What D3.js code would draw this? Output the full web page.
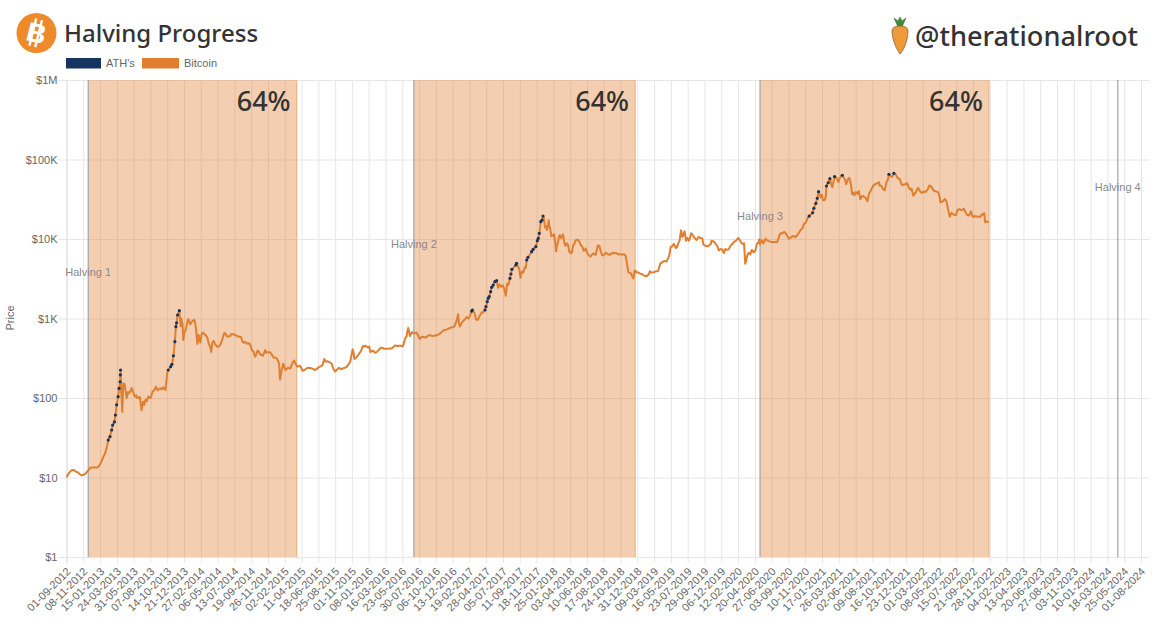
<!DOCTYPE html>
<html>
<head>
<meta charset="utf-8">
<script src="https://cdn.jsdelivr.net/npm/d3@7"></script>
<style>
  html, body { margin: 0; background: #fff; }
  svg { display: block; }
  text { font-family: "Liberation Sans", sans-serif; }
  .titulo { font-family: "Noto Sans", sans-serif; font-weight: 500; fill: #333; }
  .eje text { fill: #666; font-size: 11px; }
  .eje path { display: none; }
  .eje line { stroke: #e6e6e6; }
</style>
</head>
<body>
<svg width="1154" height="620"></svg>
<script>

/* Datos */

let etiquetas_x = [
  '01-09-2012','08-11-2012','15-01-2013','24-03-2013','31-05-2013','07-08-2013','14-10-2013','21-12-2013',
  '27-02-2014','06-05-2014','13-07-2014','19-09-2014','26-11-2014','02-02-2015','11-04-2015','18-06-2015',
  '25-08-2015','01-11-2015','08-01-2016','16-03-2016','23-05-2016','30-07-2016','06-10-2016','13-12-2016',
  '19-02-2017','28-04-2017','05-07-2017','11-09-2017','18-11-2017','25-01-2018','03-04-2018','10-06-2018',
  '17-08-2018','24-10-2018','31-12-2018','09-03-2019','16-05-2019','23-07-2019','29-09-2019','06-12-2019',
  '12-02-2020','20-04-2020','27-06-2020','03-09-2020','10-11-2020','17-01-2021','26-03-2021','02-06-2021',
  '09-08-2021','16-10-2021','23-12-2021','01-03-2022','08-05-2022','15-07-2022','21-09-2022','28-11-2022',
  '04-02-2023','13-04-2023','20-06-2023','27-08-2023','03-11-2023','10-01-2024','18-03-2024','25-05-2024',
  '01-08-2024'
]

let ticks_y = [1, 10, 100, 1000, 10000, 100000, 1000000]
let etiquetas_y = ['$1', '$10', '$100', '$1K', '$10K', '$100K', '$1M']

let halvings = ['Halving 1', 'Halving 2', 'Halving 3', 'Halving 4']
let halving_fechas = ['2012-11-28', '2016-07-09', '2020-05-11', '2024-04-29']
let progreso_fin = ['2015-03-22', '2018-12-22', '2022-11-24']
let progreso_texto = ['64%', '64%', '64%']

let bitcoin_fechas = [
  '2012-09-01','2012-09-08','2012-09-15','2012-09-22','2012-10-01','2012-10-08','2012-10-15','2012-10-25','2012-11-01','2012-11-08','2012-11-15','2012-11-22','2012-11-28','2012-12-08','2012-12-18','2012-12-28',
  '2013-01-05','2013-01-12','2013-01-20','2013-01-28','2013-02-05','2013-02-12',
  '2013-04-11','2013-04-15','2013-04-19','2013-04-24','2013-05-03','2013-05-12','2013-05-23','2013-06-05','2013-06-15','2013-06-25','2013-07-02','2013-07-08','2013-07-18','2013-07-29','2013-08-15','2013-08-29','2013-09-15','2013-09-28','2013-10-07','2013-10-14',
  '2013-12-07','2013-12-10','2013-12-15','2013-12-18','2013-12-22','2013-12-28',
  '2014-01-05','2014-01-15','2014-01-25','2014-02-03','2014-02-08','2014-02-13','2014-02-18','2014-02-25','2014-03-03','2014-03-15','2014-03-25','2014-04-01','2014-04-10','2014-04-15','2014-04-25','2014-05-05','2014-05-20','2014-05-28','2014-06-03','2014-06-15','2014-07-01','2014-07-15','2014-08-01','2014-08-15','2014-08-25','2014-09-05','2014-09-15','2014-09-22','2014-10-05','2014-10-15','2014-10-25','2014-11-05','2014-11-15','2014-11-25','2014-12-05','2014-12-20',
  '2015-01-01','2015-01-10','2015-01-14','2015-01-20','2015-01-27','2015-02-05','2015-02-15','2015-03-01','2015-03-12','2015-03-25','2015-04-05','2015-04-15','2015-05-01','2015-05-20','2015-06-05','2015-06-20','2015-07-05','2015-07-12','2015-07-25','2015-08-05','2015-08-18','2015-08-25','2015-09-10','2015-09-25','2015-10-10','2015-10-25','2015-11-04','2015-11-11','2015-11-20','2015-12-01','2015-12-15','2015-12-25',
  '2016-01-05','2016-01-15','2016-01-25','2016-02-10','2016-02-25','2016-03-10','2016-03-25','2016-04-10','2016-04-25','2016-05-10','2016-05-25','2016-06-05','2016-06-12','2016-06-16','2016-06-23','2016-07-01','2016-07-09','2016-07-20','2016-08-02','2016-08-10','2016-08-25','2016-09-10','2016-09-25','2016-10-10','2016-10-25','2016-11-05','2016-11-20','2016-12-05','2016-12-20','2016-12-30',
  '2017-01-04','2017-01-11','2017-01-20','2017-02-01','2017-02-15','2017-03-10','2017-03-18','2017-03-25','2017-04-05','2017-04-15',
  '2017-06-15','2017-06-25','2017-07-05','2017-07-16','2017-07-22',
  '2017-09-08','2017-09-14','2017-09-20','2017-10-01',
  '2017-12-22','2017-12-28',
  '2018-01-06','2018-01-12','2018-01-17','2018-01-28','2018-02-05','2018-02-12','2018-02-20','2018-03-05','2018-03-15','2018-03-25','2018-04-06','2018-04-15','2018-04-24','2018-05-05','2018-05-15','2018-05-28','2018-06-05','2018-06-15','2018-06-24','2018-07-05','2018-07-24','2018-08-05','2018-08-14','2018-08-25','2018-09-05','2018-09-15','2018-10-01','2018-10-15','2018-11-01','2018-11-13','2018-11-20','2018-11-25','2018-12-05','2018-12-15','2018-12-24',
  '2019-01-05','2019-01-20','2019-02-07','2019-02-20','2019-03-05','2019-03-25','2019-04-03','2019-04-20','2019-05-05','2019-05-15','2019-05-28','2019-06-05','2019-06-15','2019-06-26','2019-07-02','2019-07-10','2019-07-16','2019-07-28','2019-08-06','2019-08-20','2019-09-05','2019-09-20','2019-09-25','2019-10-05','2019-10-25','2019-10-27','2019-11-05','2019-11-20','2019-12-01','2019-12-17','2019-12-28',
  '2020-01-05','2020-01-20','2020-02-01','2020-02-14','2020-02-26','2020-03-07','2020-03-12','2020-03-20','2020-04-01','2020-04-15','2020-04-29','2020-05-08','2020-05-11','2020-05-25','2020-06-02','2020-06-15','2020-07-01','2020-07-20','2020-08-02','2020-08-17','2020-09-05','2020-09-20','2020-10-10','2020-10-21','2020-11-05','2020-11-20',
  '2021-01-12','2021-01-21','2021-02-01','2021-02-28','2021-03-25','2021-04-25','2021-05-08','2021-05-19','2021-05-28','2021-06-10','2021-06-21','2021-07-03','2021-07-20','2021-08-01','2021-08-14','2021-09-05','2021-09-07','2021-09-20','2021-10-05','2021-10-28','2021-11-20','2021-12-04','2021-12-15','2021-12-27',
  '2022-01-05','2022-01-22','2022-02-10','2022-02-24','2022-03-05','2022-03-28','2022-04-15','2022-05-03','2022-05-12','2022-05-30','2022-06-13','2022-06-18','2022-07-05','2022-07-20','2022-08-15','2022-08-28','2022-09-12','2022-09-20','2022-10-10','2022-10-28','2022-11-05','2022-11-09','2022-11-16','2022-11-24'
]

let bitcoin_precios = [
  10,11,11.8,12.3,12.4,11.9,11.7,11,10.6,10.9,11,11.7,12.3,13.4,13.4,13.4,
  13.4,14.2,15.7,18,20.4,24.5,
  117,67,153,150,100,115,133,104,100,103,70,90,95,104,120,139,133,136,126,205,
  800,1000,850,537,660,730,
  950,850,930,920,720,480,620,500,650,630,580,470,380,500,480,440,490,590,660,590,640,620,590,510,510,480,470,400,330,395,355,340,400,375,375,320,
  315,270,170,220,270,225,240,255,295,248,255,220,235,237,225,245,260,310,290,280,232,215,240,235,245,285,410,310,325,365,450,455,
  432,380,395,380,425,415,416,420,460,455,445,575,670,760,600,675,650,665,550,590,575,620,600,615,655,705,730,765,790,960,
  1130,790,900,980,1000,1190,970,960,1130,1180,
  2430,2580,2600,1930,2750,
  4300,3250,3900,4400,
  14000,14300,
  17200,13500,10800,11500,7000,8900,11200,11500,8200,8500,6600,8300,9600,9800,8500,7100,7600,6400,6000,6600,8300,7000,6200,6700,6400,6500,6600,6400,6350,6250,4700,3800,3700,3200,4000,
  3800,3600,3400,3950,3800,3950,4900,5300,5750,8000,8700,7700,8900,12900,10600,12500,9500,9500,11800,10300,10600,10200,8500,8100,8650,9500,9300,8100,7400,6650,7300,
  7400,8700,9350,10300,8800,8900,4900,6200,6400,6800,8800,9900,8600,8800,10100,9400,9200,9200,11800,12300,10100,10900,11300,12800,15500,18600,
  33500,30800,33500,45000,52000,49000,58500,36700,35500,37000,31600,34700,29800,40000,47500,51800,46900,43000,51500,60500,58000,49000,48800,50700,
  43500,35000,44000,38000,39500,47100,40500,38500,29000,31800,22500,19000,20200,23200,24000,20000,22300,18900,19100,20600,21200,16200,16600,16500
]

// lecturas intermedias, para el serrucho de la linea
let detalle_fechas = [
  '2013-05-08','2013-05-18','2013-06-10','2013-07-13','2013-07-24','2013-08-08','2013-08-22','2013-09-05','2013-09-22',
  '2014-01-08','2014-01-20','2014-01-30','2014-03-08','2014-03-20','2014-04-05','2014-04-20','2014-05-12','2014-06-08','2014-06-25','2014-07-08','2014-07-25','2014-08-08','2014-08-20','2014-09-10','2014-09-28','2014-10-10','2014-10-20','2014-11-10','2014-11-20','2014-12-12','2014-12-28',
  '2015-02-25','2015-03-05','2015-03-18','2015-04-25','2015-05-10','2015-06-12','2015-06-28','2015-07-18','2015-07-30','2015-08-12','2015-09-02','2015-09-18','2015-10-18','2015-11-08','2015-12-08','2015-12-20',
  '2016-01-10','2016-02-03','2016-03-03','2016-04-02','2016-05-03','2016-05-17','2016-06-09','2016-06-19','2016-08-18','2016-09-02','2016-10-02','2016-11-12','2016-12-12',
  '2017-01-07','2017-02-08','2017-02-20','2017-03-14','2017-03-30','2017-04-10','2017-06-20','2017-06-29','2017-07-10','2017-07-19','2017-07-27','2017-09-05','2017-09-17','2017-09-25','2017-10-05','2017-12-18','2017-12-25','2017-12-30',
  '2018-01-03','2018-01-09','2018-01-22','2018-02-02','2018-02-08','2018-02-16','2018-02-26','2018-03-10','2018-03-20','2018-03-30','2018-04-10','2018-04-20','2018-05-10','2018-05-22','2018-06-10','2018-06-30','2018-07-15','2018-07-30','2018-08-10','2018-08-20','2018-09-10','2018-09-22','2018-10-08','2018-10-20','2018-11-07','2018-11-16','2018-12-10','2018-12-20','2018-12-28',
  '2019-01-12','2019-01-28','2019-02-15','2019-02-25','2019-03-15','2019-04-10','2019-04-28','2019-05-10','2019-05-20','2019-06-10','2019-06-20','2019-06-23','2019-07-05','2019-07-13','2019-07-22','2019-08-02','2019-08-12','2019-08-28','2019-09-12','2019-10-15','2019-11-12','2019-11-26','2019-12-08','2019-12-22',
  '2020-01-12','2020-01-28','2020-02-08','2020-02-20','2020-03-02','2020-03-15','2020-03-26','2020-04-08','2020-04-22','2020-05-04','2020-05-18','2020-06-08','2020-06-25','2020-07-10','2020-07-28','2020-08-10','2020-08-25','2020-09-12','2020-10-02','2020-10-30','2020-11-12',
  '2021-01-16','2021-01-27','2021-02-25','2021-03-03','2021-03-18','2021-03-30','2021-04-20','2021-05-03','2021-05-14','2021-05-24','2021-06-03','2021-06-15','2021-06-27','2021-07-12','2021-07-26','2021-08-08','2021-08-22','2021-09-14','2021-09-28','2021-10-10','2021-10-24','2021-11-12','2021-11-28','2021-12-10','2021-12-22',
  '2022-01-10','2022-01-15','2022-01-30','2022-02-18','2022-03-12','2022-03-20','2022-04-03','2022-04-25','2022-05-08','2022-05-20','2022-06-05','2022-06-25','2022-07-13','2022-07-28','2022-08-05','2022-08-22','2022-09-05','2022-09-28','2022-10-20','2022-11-02'
]

let detalle_precios = [
  118,122,108,82,92,100,125,125,128,
  980,900,960,665,610,450,525,445,640,600,635,600,590,495,490,385,360,385,365,370,350,320,
  235,275,270,228,240,232,250,285,285,265,228,230,265,370,390,440,
  445,370,430,418,450,455,590,700,585,600,610,715,780,
  900,1040,1060,1100,1040,1200,2700,2500,2350,2300,2650,4350,3700,3800,4300,18000,14500,13000,
  15000,14500,11000,8800,8200,10500,10300,9000,8800,7000,6800,8700,9300,8000,6800,6300,6300,8200,6300,6400,6300,6700,6600,6450,6450,5600,3400,4000,3800,
  3650,3450,3600,3800,3900,5100,5200,6300,8000,7900,9500,10900,11000,11300,10300,10500,11300,9700,10300,8200,8800,7200,7500,7500,
  8200,9300,9900,9600,8700,5200,6700,7300,7100,8900,9700,9700,9200,9200,11000,11800,11500,10400,10600,13700,16000,
  36000,30800,47000,50000,58000,58800,56000,57500,49000,38000,39000,40000,34500,33000,37000,44000,49000,47000,41000,55000,61000,64500,57000,47500,48500,
  41800,43000,38000,40000,39000,41500,46300,39500,34000,29500,29800,21300,20000,23800,23000,21400,19800,19400,19000,20200
]

let ath_fechas = [
  '2013-02-17','2013-02-24','2013-03-03','2013-03-07','2013-03-14','2013-03-18','2013-03-23','2013-03-29','2013-04-02','2013-04-06','2013-04-07','2013-04-08',
  '2013-10-18','2013-10-28','2013-11-02','2013-11-08','2013-11-14','2013-11-18','2013-11-21','2013-11-25','2013-12-02',
  '2017-02-28','2017-03-03','2017-04-23','2017-04-27','2017-05-02','2017-05-06','2017-05-10','2017-05-16','2017-05-20','2017-05-26','2017-06-02','2017-06-09',
  '2017-08-02','2017-08-06','2017-08-10','2017-08-26','2017-08-29','2017-10-09','2017-10-14','2017-10-29','2017-11-04','2017-11-15','2017-11-21','2017-11-25','2017-11-29','2017-12-05','2017-12-10','2017-12-14',
  '2020-11-26','2020-12-10','2020-12-15','2020-12-23','2020-12-29','2021-01-03','2021-02-04','2021-02-11','2021-02-18','2021-03-09','2021-04-09','2021-10-15','2021-11-04'
]

let ath_precios = [
  29.6,32.6,39.6,45.7,50,61,82,104,132,160,195,225,
  225,248,265,340,511,789,880,1107,1253,
  1240,1280,1280,1407,1629,1795,1884,2177,2466,2636,2904,2990,
  3200,3630,4150,4710,4940,5445,5890,6920,7420,8000,9520,10200,11800,16500,17300,19450,
  19450,21400,24300,28100,32500,39400,46400,51000,57400,60900,63400,65200,67000
]

let leyenda = ["ATH's", 'Bitcoin']


/* Lienzo */

let svg = d3.select('svg')
let naranja = '#e07f30'
let azul = '#15345f'
let arriba = 80, abajo = 557

let fecha_iso = d3.utcParse('%Y-%m-%d')
let fecha_tick = d3.utcParse('%d-%m-%Y')
let fmt_tick = d3.utcFormat('%d-%m-%Y')

let x_ticks = etiquetas_x.map(fecha_tick)

let x = d3.scaleUtc()
  .domain([x_ticks[0], x_ticks[x_ticks.length - 1]])
  .range([66.5, 1141])

let y = d3.scaleLog()
  .domain([1, 1000000])
  .range([abajo, arriba])


/* Ejes y grilla */

let eje_x = svg.append('g')
  .attr('class', 'eje')
  .attr('transform', `translate(0, ${abajo})`)
  .call(d3.axisBottom(x).tickValues(x_ticks).tickFormat(fmt_tick).tickSize(arriba - abajo).tickSizeOuter(0))

eje_x.selectAll('line').attr('y2', arriba - abajo).attr('y1', 6)
eje_x.selectAll('line').filter((d, i) => i == 0).style('stroke', '#d4d4d4')
eje_x.selectAll('text')
  .attr('text-anchor', 'end')
  .attr('transform', 'rotate(-45)')
  .attr('x', -7.7)
  .attr('y', 12.8)
  .attr('dy', '0.1em')

let eje_y = svg.append('g')
  .attr('class', 'eje')
  .attr('transform', 'translate(66.5, 0)')
  .call(d3.axisLeft(y).tickValues(ticks_y).tickFormat((d, i) => etiquetas_y[i]).tickSize(8).tickPadding(1))

eje_y.selectAll('line').attr('x2', 1149 - 66.5).attr('x1', -8)

svg.append('text')
  .attr('transform', 'translate(14, 318) rotate(-90)')
  .attr('text-anchor', 'middle')
  .style('font-size', '11px')
  .style('fill', '#666')
  .text('Price')


/* Bandas de progreso */

let bandas = progreso_fin.map((f, i) => ({
  ini: fecha_iso(halving_fechas[i]),
  fin: fecha_iso(f),
  texto: progreso_texto[i]
}))

let g_bandas = svg.append('g').selectAll('g')
  .data(bandas).enter().append('g')

g_bandas.append('rect')
  .attr('x', d => x(d.ini))
  .attr('y', arriba)
  .attr('width', d => x(d.fin) - x(d.ini))
  .attr('height', abajo - arriba)
  .attr('fill', naranja)
  .attr('fill-opacity', 0.38)

g_bandas.append('line')
  .attr('x1', d => x(d.fin))
  .attr('x2', d => x(d.fin))
  .attr('y1', arriba)
  .attr('y2', abajo)
  .attr('stroke', '#f0b47c')
  .attr('stroke-width', 1.2)

g_bandas.append('text')
  .attr('class', 'titulo')
  .attr('x', d => x(d.fin) - 6)
  .attr('y', 111)
  .attr('text-anchor', 'end')
  .style('font-size', '27px')
  .text(d => d.texto)

svg.append('g').selectAll('line')
  .data(halving_fechas).enter().append('line')
  .attr('x1', d => x(fecha_iso(d)))
  .attr('x2', d => x(fecha_iso(d)))
  .attr('y1', arriba)
  .attr('y2', abajo)
  .attr('stroke', '#a3a3a3')
  .attr('stroke-width', 1.2)

let altura_halving = [272, 244, 216, 187]

svg.append('g').selectAll('text')
  .data(halvings).enter().append('text')
  .attr('x', (d, i) => x(fecha_iso(halving_fechas[i])))
  .attr('y', (d, i) => altura_halving[i])
  .attr('dy', '0.35em')
  .attr('text-anchor', 'middle')
  .style('font-size', '11px')
  .style('fill', '#8a8a8a')
  .text(d => d)


/* Series */

let a_puntos = (fechas, precios) => fechas.map((f, i) => ({fecha: fecha_iso(f), precio: precios[i]}))

let puntos_ath = a_puntos(ath_fechas, ath_precios)

// la linea pasa tambien por los ATH
let serie = a_puntos(bitcoin_fechas, bitcoin_precios)
  .concat(a_puntos(detalle_fechas, detalle_precios), puntos_ath)
  .sort((a, b) => a.fecha - b.fecha)

let linea = d3.line()
  .x(d => x(d.fecha))
  .y(d => y(d.precio))

svg.append('path')
  .datum(serie)
  .attr('d', linea)
  .attr('fill', 'none')
  .attr('stroke', naranja)
  .attr('stroke-width', 2)
  .attr('stroke-linejoin', 'round')

svg.append('g').selectAll('circle')
  .data(puntos_ath).enter().append('circle')
  .attr('cx', d => x(d.fecha))
  .attr('cy', d => y(d.precio))
  .attr('r', 1.6)
  .attr('fill', azul)


/* Leyenda */

let colores_leyenda = [azul, naranja]
let caja_leyenda = [[66, 35, 106], [142, 37, 184]]

leyenda.forEach((t, i) => {
  svg.append('rect')
    .attr('x', caja_leyenda[i][0])
    .attr('y', 58)
    .attr('width', caja_leyenda[i][1])
    .attr('height', 10.5)
    .attr('fill', colores_leyenda[i])
  svg.append('text')
    .attr('x', caja_leyenda[i][2])
    .attr('y', 66.5)
    .style('font-size', '11px')
    .style('fill', '#666')
    .text(t)
})


/* Cabecera */

svg.append('text')
  .attr('class', 'titulo')
  .attr('x', 64)
  .attr('y', 42)
  .style('font-size', '24px')
  .text('Halving Progress')

svg.append('text')
  .attr('class', 'titulo')
  .attr('x', 1138)
  .attr('y', 46)
  .attr('text-anchor', 'end')
  .style('font-size', '27.2px')
  .text('@therationalroot')

let logo = svg.append('g').attr('transform', 'translate(36.5, 33)')
logo.append('circle').attr('r', 20).attr('fill', '#ee8a2a')
let b = logo.append('g').attr('transform', 'rotate(14)')
b.append('text')
  .attr('text-anchor', 'middle')
  .attr('y', 9.5)
  .style('font-size', '27px')
  .style('font-weight', 'bold')
  .style('fill', '#fff')
  .text('B')
b.selectAll('rect')
  .data([-5, 1]).enter().append('rect')
  .attr('x', d => d)
  .attr('y', -14)
  .attr('width', 2.4)
  .attr('height', 28)
  .attr('fill', '#fff')

let zanahoria = svg.append('g').attr('transform', 'translate(900, 36)')
zanahoria.append('path')
  .attr('d', 'M-2 -9 L-6 -18 L-2 -15 L0 -19 L2 -15 L6 -18 L2 -9 Z')
  .attr('fill', '#3f8f3a')
  .attr('stroke', '#2c6b2a')
  .attr('stroke-width', 0.5)
zanahoria.append('path')
  .attr('d', 'M-8 -5 C-8 -9 -4 -10 0 -10 C4 -10 8 -9 8 -5 C8 4 4 14 0 18 C-3 14 -8 4 -8 -5 Z')
  .attr('fill', '#ee9a3a')
  .attr('stroke', '#7a5a30')
  .attr('stroke-width', 0.7)

</script>
</body>
</html>
